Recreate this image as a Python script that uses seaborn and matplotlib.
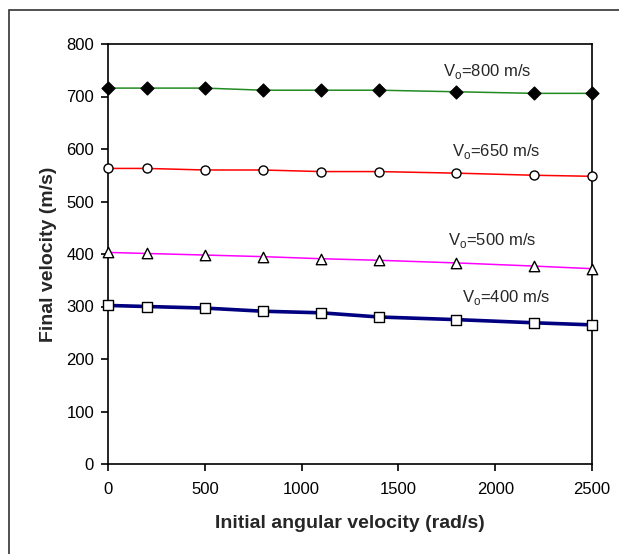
import matplotlib
matplotlib.use("Agg")
import matplotlib.pyplot as plt
import pandas as pd
import seaborn as sns
from matplotlib.patches import Rectangle

# initial angular velocity (rad/s)
omega = [0, 200, 500, 800, 1100, 1400, 1800, 2200, 2500]

# final velocity (m/s) per initial velocity
v800 = [716, 716, 716, 712, 712, 712, 709, 706, 706]
v650 = [563, 563, 560, 560, 557, 557, 554, 550, 548]
v500 = [403, 401, 398, 395, 391, 388, 383, 377, 372]
v400 = [302, 300, 297, 291, 288, 280, 275, 269, 265]

series_names = ["800", "650", "500", "400"]
label_pos = {"800": (1730, 748), "650": (1777, 596), "500": (1756, 426), "400": (1828, 317)}

sns.set_style("white")
plt.rcParams["font.family"] = ["Liberation Sans", "DejaVu Sans"]

df = pd.DataFrame({
    "omega": omega * 4,
    "v": v800 + v650 + v500 + v400,
    "V0": [n for n in series_names for _ in omega],
})

styles = {
    "800": dict(color="#228b22", lw=1.1, marker="D", mfc="black", ms=6.5),
    "650": dict(color="#ff0000", lw=1.1, marker="o", mfc="white", ms=6.5),
    "500": dict(color="#ff00ff", lw=1.1, marker="^", mfc="white", ms=7.5),
    "400": dict(color="#000080", lw=2.6, marker="s", mfc="white", ms=6.5),
}

fig = plt.figure(figsize=(6.19, 5.54), dpi=100)
ax = fig.add_axes([108 / 619, 1 - 464 / 554, 484 / 619, 420 / 554])

for name in series_names:
    st = styles[name]
    sub = df[df["V0"] == name]
    sns.lineplot(data=sub, x="omega", y="v", ax=ax, color=st["color"],
                 linewidth=st["lw"], legend=False, zorder=2)
    sns.scatterplot(data=sub, x="omega", y="v", ax=ax, marker=st["marker"],
                    color=st["mfc"], edgecolor="black", linewidth=1.0,
                    s=st["ms"] ** 2, legend=False, zorder=3, clip_on=False)
    lx, ly = label_pos[name]
    ax.text(lx, ly, "V$_\\mathregular{o}$=" + name + " m/s", fontsize=12,
            ha="left", va="center")

ax.set_xlim(0, 2500)
ax.set_ylim(0, 800)
ax.set_xticks([0, 500, 1000, 1500, 2000, 2500])
ax.set_yticks(range(0, 801, 100))
for s in ax.spines.values():
    s.set_color("black")
    s.set_linewidth(1.2)
ax.tick_params(axis="both", direction="out", length=5, width=1.2,
               labelsize=12, colors="black")
ax.tick_params(axis="x", pad=8)
ax.tick_params(axis="y", pad=5)
ax.tick_params(top=False, right=False, bottom=True, left=True)
ax.set_xlabel("Initial angular velocity (rad/s)", fontsize=14,
              fontweight="bold", labelpad=13)
ax.set_ylabel("Final velocity (m/s)", fontsize=14, fontweight="bold",
              labelpad=7)

fig.patches.append(Rectangle((9 / 619, -0.05), 2, 1 - 10 / 554 + 0.05,
                             transform=fig.transFigure, fill=False,
                             edgecolor="#333333", linewidth=1.2))

fig.savefig("out.png", dpi=100)
